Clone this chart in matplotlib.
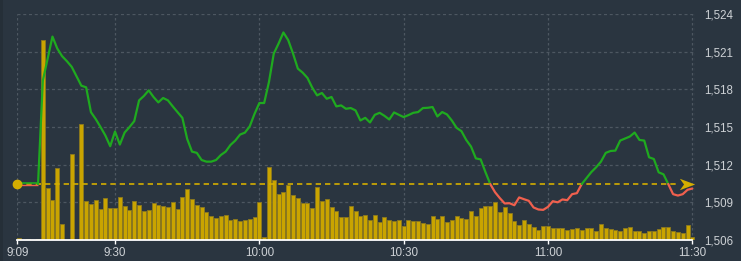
import numpy as np
import pandas as pd
import matplotlib
matplotlib.use("Agg")
import matplotlib.pyplot as plt
from matplotlib.path import Path
from matplotlib.markers import MarkerStyle
import matplotlib.transforms as mtransforms

# ---------------- data ----------------
times = pd.date_range("2024-01-01 09:10", "2024-01-01 11:30", freq="min")
ref_price = 1510.46

prices = [1510.46, 1510.46, 1510.46, 1510.46, 1510.46,
          1518.7, 1520.45, 1522.2, 1521.25, 1520.64, 1520.24, 1519.79, 1519.04, 1518.29, 1518.16,
          1516.18, 1515.63, 1514.99, 1514.32, 1513.47, 1514.64, 1513.6, 1514.56, 1514.99, 1515.47,
          1517.12, 1517.47, 1517.92, 1517.39, 1516.96, 1517.31, 1517.12, 1516.64, 1516.18, 1515.73,
          1514.05, 1513.04, 1512.94, 1512.37, 1512.24, 1512.24, 1512.37, 1512.77, 1513.04, 1513.57,
          1513.92, 1514.4, 1514.55, 1515.05, 1516.05, 1516.91, 1516.91, 1518.59, 1520.85, 1521.65,
          1522.53, 1521.92, 1520.85, 1519.65, 1519.33, 1518.91, 1518.13, 1517.52, 1517.71, 1517.25,
          1517.39, 1516.64, 1516.72, 1516.45, 1516.51, 1516.32, 1515.52, 1515.73, 1515.36, 1515.97,
          1516.13, 1515.89, 1515.6, 1516.16, 1515.97, 1515.79, 1515.95, 1516.13, 1516.19, 1516.51,
          1516.53, 1516.59, 1515.84, 1516.19, 1516.0, 1515.52, 1514.93, 1514.67, 1513.97, 1513.44,
          1512.5, 1512.42, 1511.4, 1510.45, 1509.8, 1509.33, 1508.91, 1508.93, 1508.77, 1509.39,
          1509.25, 1509.12, 1508.59, 1508.43, 1508.4, 1508.64, 1509.09, 1509.0, 1509.23, 1509.17,
          1509.65, 1509.73, 1510.45, 1510.93, 1511.41, 1511.79, 1512.24, 1512.94, 1513.09, 1513.12,
          1513.92, 1514.08, 1514.24, 1514.56, 1513.97, 1513.92, 1512.59, 1512.45, 1511.39, 1511.23,
          1510.45, 1509.65, 1509.54, 1509.65, 1510.0, 1510.1]

volumes = [1.7, 0, 1, 0, 1, 200, 51.7, 40, 71.7, 16.3, 0, 85.7, 0, 115.7, 39.3, 35.7, 39.7, 31,
           41.7, 32.3, 32, 43.3, 34.3,
           30, 38.7, 34.7, 29, 30, 37, 34.7, 34.3, 33.3, 37.7, 31.3, 43.3, 50.7, 41, 35, 32.7,
           28.3, 23.7, 22.3, 24, 25, 19.7, 21, 18.7, 20,
           21, 23.3, 37.7, 3, 73.3, 60, 46.3, 48, 55, 45.3, 41.7, 36.7, 37.3, 32.3, 53, 39.3, 41,
           32.7, 29, 23.3, 23.3, 34.3, 29.3,
           23.7, 24.7, 20, 24.7, 18.3, 22.7, 20, 19, 20, 14, 20, 18.7, 18.7, 17, 16, 23.7, 21, 24,
           18, 20, 24, 21.7, 21, 29,
           24.3, 32.3, 34, 34, 37.7, 28.3, 33, 27, 18.7, 15, 20, 15.7, 13, 9.7, 13.7, 14, 12, 12,
           11.7, 10.3, 11, 11.7, 10.3,
           12, 11.7, 9, 16, 12, 10.7, 9.7, 9.3, 11.7, 12.7, 9.3, 8.7, 7, 9, 9, 11.3, 13.3, 13, 8.7,
           8, 7.3, 14.7, 3]

x_tick_minutes = [9.69, 30, 60, 90, 120, 150]
x_tick_labels = ["9:09", "9:30", "10:00", "10:30", "11:00", "11:30"]
y_ticks = [1506, 1509, 1512, 1515, 1518, 1521, 1524]

# ---------------- style ----------------
BG = "#2a3540"
GRID = "#4d5761"
GREEN = "#1faa1f"
RED = "#f0604e"
GOLD = "#d4ae00"
BAR = "#c9a400"
BAR_EDGE = "#8d7a1e"
TXT = "#cdd1d5"

plt.rcParams['font.family'] = ['Liberation Sans', 'DejaVu Sans']

W, H = 741, 261
fig = plt.figure(figsize=(W / 100, H / 100), dpi=100)
fig.patch.set_facecolor(BG)
fig.patches.append(plt.Rectangle((0, 0), 3 / W, 1, transform=fig.transFigure,
                                 facecolor="#252f38", edgecolor="none", zorder=0))

left_px, right_px, top_px, bot_px = 17.3, 695, 14, 240
ax = fig.add_axes([left_px / W, (H - bot_px) / H, (right_px - left_px) / W, (bot_px - top_px) / H])
axv = ax.twinx()
ax.set_zorder(axv.get_zorder() + 1)
ax.patch.set_visible(False)
axv.patch.set_facecolor(BG)

minutes = np.array((times.hour - 9) * 60 + times.minute, dtype=float)
prices = np.array(prices)
volumes = np.array(volumes)

xmin, xmax = 9.69, 150.55
ax.set_xlim(xmin, xmax)
ax.set_ylim(1506, 1524)
axv.set_ylim(0, bot_px - top_px)

# grid on the volume (background) axes
blend = mtransforms.blended_transform_factory(axv.transAxes, ax.transData)
for yv in y_ticks[1:]:
    axv.plot([0, 1], [yv, yv], transform=blend, color=GRID, lw=0.9,
             linestyle=(0, (2.4, 2.2)), zorder=0)
for xv in x_tick_minutes + [xmax - 0.02]:
    axv.axvline(xv, color=GRID, lw=0.9, linestyle=(0, (2.0, 2.0)), zorder=0)

# volume bars
axv.bar(minutes, volumes, width=0.83, color=BAR, edgecolor=BAR_EDGE, linewidth=0.6, zorder=2)
axv.set_yticks([])
for s in axv.spines.values():
    s.set_visible(False)

# reference dashed line
ax.axhline(ref_price, xmin=0, xmax=0.976, color=GOLD, lw=1.2, linestyle=(0, (3.2, 2.4)), zorder=3)

# price line coloured above / below reference
def runs(x, y, ref):
    segs = []
    cur_x, cur_y = [x[0]], [y[0]]
    cur_up = y[0] >= ref
    for i in range(1, len(x)):
        up = y[i] >= ref
        if up != cur_up and y[i] != ref and y[i - 1] != ref:
            t = (ref - y[i - 1]) / (y[i] - y[i - 1])
            xc = x[i - 1] + t * (x[i] - x[i - 1])
            cur_x.append(xc); cur_y.append(ref)
            segs.append((cur_up, cur_x, cur_y))
            cur_x, cur_y = [xc], [ref]
            cur_up = up
        elif up != cur_up:
            cur_x.append(x[i]); cur_y.append(y[i])
            segs.append((cur_up, cur_x, cur_y))
            cur_x, cur_y = [x[i]], [y[i]]
            cur_up = up
            continue
        cur_x.append(x[i]); cur_y.append(y[i])
    segs.append((cur_up, cur_x, cur_y))
    return segs

# flat opening segment sits on the reference: draw red under green
flat = prices == ref_price
fx = minutes[flat]
off_dn = mtransforms.offset_copy(ax.transData, fig=fig, x=0, y=-1.0, units='dots')
off_up = mtransforms.offset_copy(ax.transData, fig=fig, x=0, y=1.0, units='dots')
ax.plot(fx, prices[flat], color=RED, lw=1.0, transform=off_dn, zorder=4, solid_capstyle='butt')
ax.plot(fx, prices[flat], color=GREEN, lw=1.2, transform=off_up, zorder=4, solid_capstyle='butt')

start = np.argmax(~flat) - 1
for up, sx, sy in runs(minutes[start:], prices[start:], ref_price):
    ax.plot(sx, sy, color=GREEN if up else RED, lw=1.6, zorder=5,
            solid_joinstyle='round', solid_capstyle='round')

# left dot and right arrow
ax.plot([0], [ref_price], marker='o', markersize=6, color=GOLD,
        transform=mtransforms.blended_transform_factory(ax.transAxes, ax.transData),
        clip_on=False, zorder=6)
arrow = Path([(1, 0), (-1, 0.75), (-0.45, 0), (-1, -0.75), (1, 0)],
             [Path.MOVETO, Path.LINETO, Path.LINETO, Path.LINETO, Path.CLOSEPOLY])
ax.plot([0.9875], [ref_price], marker=MarkerStyle(arrow), markersize=11, color=GOLD,
        markeredgewidth=0,
        transform=mtransforms.blended_transform_factory(ax.transAxes, ax.transData),
        clip_on=False, zorder=6)

# axes / ticks
ax.yaxis.tick_right()
ax.set_yticks(y_ticks)
ax.set_yticklabels([f"{v:,}" for v in y_ticks])
ax.tick_params(axis='y', length=0, pad=6.5, labelsize=8.3, labelcolor=TXT)
ax.set_xticks(x_tick_minutes)
ax.set_xticklabels(x_tick_labels)
ax.tick_params(axis='x', length=3, width=1, color='white', pad=2.2, labelsize=8.4, labelcolor=TXT)
for k, s in ax.spines.items():
    s.set_visible(k == 'bottom')
ax.spines['bottom'].set_color('white')
ax.spines['bottom'].set_linewidth(1.3)
ax.spines['bottom'].set_bounds(xmin, 150)

fig.savefig("out.png", dpi=100, facecolor=BG)
